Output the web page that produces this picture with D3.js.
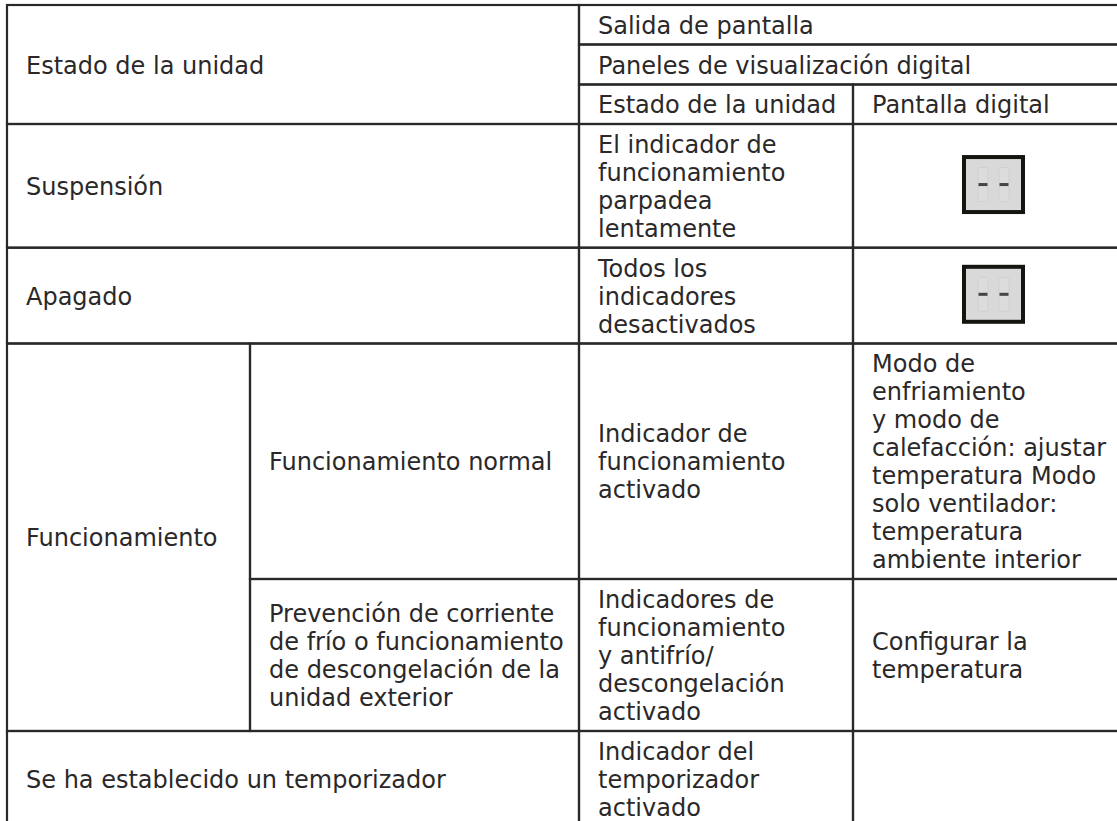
<!DOCTYPE html>
<html>
<head>
<meta charset="utf-8">
<script src="https://cdnjs.cloudflare.com/ajax/libs/d3/7.8.5/d3.min.js"></script>
<style>
  html, body { margin: 0; padding: 0; background: #fff; overflow: hidden; }
  text { font-family: "DejaVu Sans", sans-serif; font-size: 24px; fill: #2a2829; }
</style>
</head>
<body>
<div id="tabla"></div>
<script>
// table structure, the last key of each list only closes the grid
var columnas = ["estado", "detalle", "unidad", "pantalla", "fin"];
var filas = ["salida", "paneles", "cabecera", "suspension", "apagado", "normal", "prevencion", "temporizador", "fin"];

var encabezados = [
  {c0: "estado", c1: "unidad", f0: "salida", f1: "suspension", texto: ["Estado de la unidad"]},
  {c0: "unidad", c1: "fin", f0: "salida", f1: "paneles", texto: ["Salida de pantalla"]},
  {c0: "unidad", c1: "fin", f0: "paneles", f1: "cabecera", texto: ["Paneles de visualización digital"]},
  {c0: "unidad", c1: "pantalla", f0: "cabecera", f1: "suspension", texto: ["Estado de la unidad"]},
  {c0: "pantalla", c1: "fin", f0: "cabecera", f1: "suspension", texto: ["Pantalla digital"]}
];

var cuerpo = [
  {c0: "estado", c1: "unidad", f0: "suspension", f1: "apagado", texto: ["Suspensión"]},
  {c0: "unidad", c1: "pantalla", f0: "suspension", f1: "apagado", texto: ["El indicador de", "funcionamiento", "parpadea", "lentamente"]},
  {c0: "pantalla", c1: "fin", f0: "suspension", f1: "apagado", texto: [], digitos: "--"},
  {c0: "estado", c1: "unidad", f0: "apagado", f1: "normal", texto: ["Apagado"]},
  {c0: "unidad", c1: "pantalla", f0: "apagado", f1: "normal", texto: ["Todos los", "indicadores", "desactivados"]},
  {c0: "pantalla", c1: "fin", f0: "apagado", f1: "normal", texto: [], digitos: "--"},
  {c0: "estado", c1: "detalle", f0: "normal", f1: "temporizador", texto: ["Funcionamiento"]},
  {c0: "detalle", c1: "unidad", f0: "normal", f1: "prevencion", texto: ["Funcionamiento normal"]},
  {c0: "unidad", c1: "pantalla", f0: "normal", f1: "prevencion", texto: ["Indicador de", "funcionamiento", "activado"]},
  {c0: "pantalla", c1: "fin", f0: "normal", f1: "prevencion", texto: ["Modo de", "enfriamiento", "y modo de", "calefacción: ajustar", "temperatura Modo", "solo ventilador:", "temperatura", "ambiente interior"]},
  {c0: "detalle", c1: "unidad", f0: "prevencion", f1: "temporizador", texto: ["Prevención de corriente", "de frío o funcionamiento", "de descongelación de la", "unidad exterior"]},
  {c0: "unidad", c1: "pantalla", f0: "prevencion", f1: "temporizador", texto: ["Indicadores de", "funcionamiento", "y antifrío/", "descongelación", "activado"]},
  {c0: "pantalla", c1: "fin", f0: "prevencion", f1: "temporizador", texto: ["Configurar la", "temperatura"]},
  {c0: "estado", c1: "unidad", f0: "temporizador", f1: "fin", texto: ["Se ha establecido un temporizador"]},
  {c0: "unidad", c1: "pantalla", f0: "temporizador", f1: "fin", texto: ["Indicador del", "temporizador", "activado"]},
  {c0: "pantalla", c1: "fin", f0: "temporizador", f1: "fin", texto: []}
];

var width = 1117, height = 821;
var padding = 19, interlinea = 28;

var x = d3.scaleOrdinal().domain(columnas).range([7, 250, 579, 853, 1134]);
var y = d3.scaleOrdinal().domain(filas).range([5, 44.5, 84.5, 124, 247.7, 343.5, 579, 731, 827]);

var svg = d3.select("#tabla").append("svg")
    .attr("width", width)
    .attr("height", height)
    .style("display", "block");

var celdas = encabezados.concat(cuerpo);

svg.append("g").selectAll("rect")
    .data(celdas)
    .join("rect")
    .attr("x", function(d) { return x(d.c0) })
    .attr("y", function(d) { return y(d.f0) })
    .attr("width", function(d) { return x(d.c1) - x(d.c0) })
    .attr("height", function(d) { return y(d.f1) - y(d.f0) })
    .attr("fill", "none")
    .attr("stroke", "#2a2829")
    .attr("stroke-width", 2.2);

svg.append("g").selectAll("g")
    .data(celdas)
    .join("g")
    .each(function(d) {
      var medio = (y(d.f0) + y(d.f1)) / 2;
      d3.select(this).selectAll("text")
          .data(d.texto)
          .join("text")
          .attr("x", x(d.c0) + padding)
          .attr("y", function(t, i) { return medio + (i - (d.texto.length - 1) / 2) * interlinea + 9 })
          .text(function(t) { return t });
    });

// blur for the soft look of the scanned digit icon
svg.append("defs").append("filter")
    .attr("id", "suave")
    .append("feGaussianBlur")
    .attr("stdDeviation", 0.5);

var icono = svg.append("g").selectAll("g")
    .data(celdas.filter(function(d) { return d.digitos }))
    .join("g")
    .attr("transform", function(d) {
      return "translate(" + ((x(d.c0) + x(d.c1)) / 2) + "," + ((y(d.f0) + y(d.f1)) / 2 - 1.3) + ")";
    });

icono.append("rect")
    .attr("x", -29.5).attr("y", -27.5)
    .attr("width", 59).attr("height", 55)
    .attr("fill", "#d9d9d9")
    .attr("stroke", "#15150f")
    .attr("stroke-width", 4);

var digito = icono.selectAll("g")
    .data(function(d) { return d.digitos.split("") })
    .join("g")
    .attr("transform", function(d, i) { return "translate(" + (i * 21 - 10.5) + ",0)" })
    .attr("filter", "url(#suave)");

digito.selectAll("rect")
    .data([-17, 1])
    .join("rect")
    .attr("x", -5).attr("y", function(d) { return d })
    .attr("width", 10).attr("height", 16)
    .attr("rx", 1.5)
    .attr("fill", "#dcdcdc")
    .attr("stroke", "#d0d0d0");

digito.append("rect")
    .attr("x", -4.5).attr("y", -1.5)
    .attr("width", 9).attr("height", 3)
    .attr("fill", "#45444a");
</script>
</body>
</html>
